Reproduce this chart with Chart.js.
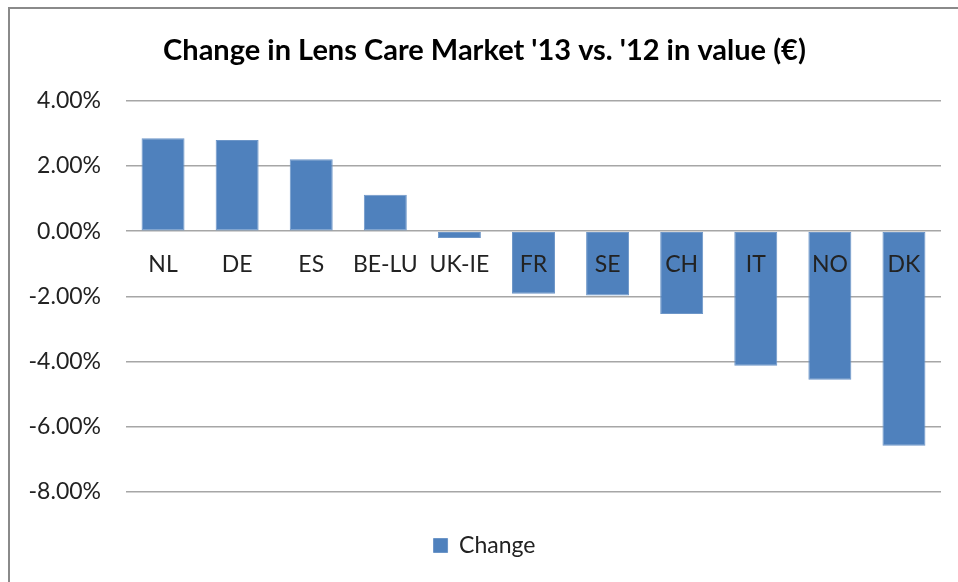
<!DOCTYPE html>
<html>
<head>
<meta charset="utf-8">
<script src="https://cdn.jsdelivr.net/npm/chart.js@4.4.0/dist/chart.umd.min.js"></script>
<style>
  body { margin: 0; background: #fff; }
  .wrap { position: relative; width: 958px; height: 582px; overflow: hidden; }
  .frame { position: absolute; left: 8px; top: 7px; width: 1000px; height: 700px; border-left: 2px solid #8a8a8a; border-top: 2px solid #8a8a8a; }
  canvas { position: absolute; left: 0; top: 0; }
</style>
</head>
<body>
<div class="wrap">
  <div class="frame"></div>
  <canvas id="chart" width="958" height="582"></canvas>
</div>
<script>
// dados
const categories = ["NL", "DE", "ES", "BE-LU", "UK-IE", "FR", "SE", "CH", "IT", "NO", "DK"];
const changeValues = [2.85, 2.80, 2.21, 1.12, -0.21, -1.92, -1.97, -2.54, -4.13, -4.56, -6.58];
const yTicks = [4, 2, 0, -2, -4, -6, -8];
const seriesName = "Change";
const chartTitle = "Change in Lens Care Market '13 vs. '12 in value (\u20AC)";

const fontFamily = "Lato, 'Open Sans', sans-serif";

const ctx = document.getElementById("chart").getContext("2d");

const chart = new Chart(ctx, {
  type: "bar",
  data: {
    labels: categories,
    datasets: [
      {
        label: seriesName,
        data: changeValues,
        backgroundColor: "#4f81bd",
        borderColor: "#6d96c8",
        borderWidth: 1,
        borderSkipped: false,
        barPercentage: 0.58,
        categoryPercentage: 1,
      },
    ],
  },
  options: {
    responsive: false,
    animation: false,
    layout: {
      padding: { top: 0, left: 28, right: 17, bottom: 15 },
    },
    plugins: {
      title: {
        display: true,
        text: chartTitle,
        color: "#000",
        font: { family: fontFamily, size: 29, weight: "bold" },
        padding: { top: 33, bottom: 33 },
      },
      legend: {
        position: "bottom",
        labels: {
          color: "#222",
          font: { family: fontFamily, size: 23 },
          boxWidth: 14,
          boxHeight: 14,
          padding: 42,
        },
      },
      tooltip: { enabled: false },
    },
    scales: {
      x: {
        position: { y: 0 },
        grid: { display: false, drawTicks: false },
        border: { display: false },
        ticks: {
          z: 1, // rotulos por cima das barras
          color: "#222",
          font: { family: fontFamily, size: 23 },
          padding: 20,
          maxRotation: 0,
          autoSkip: false,
        },
      },
      y: {
        min: Math.min(...yTicks),
        max: Math.max(...yTicks),
        afterBuildTicks: (scale) => {
          scale.ticks = yTicks.map((v) => ({ value: v }));
        },
        afterFit: (scale) => {
          scale.width = 98;
        },
        grid: { color: "#a6a6a6", lineWidth: 1.5, drawTicks: false },
        border: { display: false },
        ticks: {
          color: "#222",
          font: { family: fontFamily, size: 23 },
          padding: 25,
          callback: (v) => v.toFixed(2) + "%",
        },
      },
    },
  },
});
</script>
</body>
</html>
